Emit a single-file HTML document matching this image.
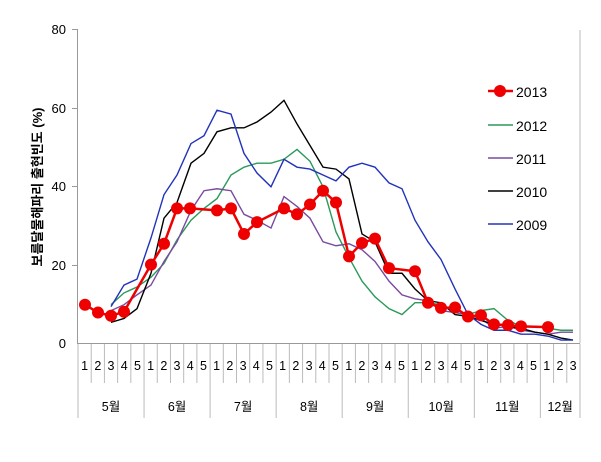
<!DOCTYPE html>
<html><head><meta charset="utf-8"><style>
body{margin:0;background:#fff;width:601px;height:462px;overflow:hidden;position:relative;font-family:"Liberation Sans","Noto Sans CJK KR",sans-serif}
.row{position:absolute;left:78px;width:510px;display:flex;font-size:12.5px;color:#000}
.row div{text-align:center;flex:none}
.w div{width:13.21px}
</style></head><body>
<svg id="s" width="601" height="462" style="position:absolute;left:0;top:0" font-family="Liberation Sans, Noto Sans CJK KR, sans-serif">
<line x1="77.5" y1="30" x2="77.5" y2="344" stroke="#999"/>
<line x1="77" y1="343.5" x2="580" y2="343.5" stroke="#999"/>
<line x1="580" y1="30" x2="580" y2="343" stroke="#bbb"/>
<g stroke="#999"><line x1="72" y1="29.5" x2="78" y2="29.5"/><line x1="72" y1="108.5" x2="78" y2="108.5"/><line x1="72" y1="186.5" x2="78" y2="186.5"/><line x1="72" y1="265.5" x2="78" y2="265.5"/></g>
<g font-size="13" text-anchor="end"><text x="66" y="34">80</text><text x="66" y="113">60</text><text x="66" y="191">40</text><text x="66" y="270">20</text><text x="66" y="348">0</text></g>
<text transform="translate(42,187) rotate(-90)" text-anchor="middle" font-size="13" font-weight="bold">보름달물해파리 출현빈도 (%)</text>
<g id="grid" stroke="#bbb"></g>
<g id="lines" fill="none" stroke-width="1.4"></g>
<g font-size="14">
<line x1="488" y1="91" x2="513" y2="91" stroke="#e00" stroke-width="2.5"/><circle cx="500" cy="91" r="6" fill="#e00"/><text x="516" y="97">2013</text>
<line x1="488" y1="125" x2="513" y2="125" stroke="#2a9a5a" stroke-width="1.4"/><text x="516" y="131">2012</text>
<line x1="488" y1="158" x2="513" y2="158" stroke="#7a4aa0" stroke-width="1.4"/><text x="516" y="164">2011</text>
<line x1="488" y1="191" x2="513" y2="191" stroke="#000" stroke-width="1.4"/><text x="516" y="197">2010</text>
<line x1="488" y1="224" x2="513" y2="224" stroke="#2233bb" stroke-width="1.4"/><text x="516" y="230">2009</text>
</g>
</svg>
<div class="row w" style="top:359px">
<div>1</div><div>2</div><div>3</div><div>4</div><div>5</div>
<div>1</div><div>2</div><div>3</div><div>4</div><div>5</div>
<div>1</div><div>2</div><div>3</div><div>4</div><div>5</div>
<div>1</div><div>2</div><div>3</div><div>4</div><div>5</div>
<div>1</div><div>2</div><div>3</div><div>4</div><div>5</div>
<div>1</div><div>2</div><div>3</div><div>4</div><div>5</div>
<div>1</div><div>2</div><div>3</div><div>4</div><div>5</div>
<div>1</div><div>2</div><div>3</div>
</div>
<div class="row" style="top:396px">
<div style="width:66.05px">5월</div><div style="width:66.05px">6월</div><div style="width:66.05px">7월</div><div style="width:66.05px">8월</div><div style="width:66.05px">9월</div><div style="width:66.05px">10월</div><div style="width:66.05px">11월</div><div style="width:39.63px">12월</div>
</div>
<script>
const W=13.21,X0=78;
const y=v=>344-v*3.93;
let g='';
for(let i=0;i<=38;i++){const x=X0+i*W;const big=(i%5==0)||i==38;g+=`<line x1="${x}" y1="344" x2="${x}" y2="${big?418:383}"/>`;}
document.getElementById('grid').innerHTML=g;
const S={
b2010:[[111,5.5],[124,6.5],[137,9],[151,18],[164,32],[177,36],[191,46],[204,48.5],[217,54],[231,55],[244,55],[257,56.5],[271,59],[284,62],[297,56],[310,50.5],[323,45],[336,44.5],[349,42],[362,28],[375,26],[389,18],[402,18],[415,14],[428,11],[441,10.5],[455,7.5],[468,7],[481,6],[494,5],[508,4.5],[521,4],[535,3],[548,2.5],[561,1.5],[573,1]],
b2009:[[111,9.5],[124,15],[137,16.5],[151,27],[164,38],[177,43],[191,51],[204,53],[217,59.5],[231,58.5],[244,48.5],[257,43.5],[271,40],[284,47],[297,45],[310,44.5],[323,43],[336,41.5],[349,45],[362,46],[375,45],[389,41],[402,39.5],[415,31.5],[428,26],[441,21.5],[455,14],[468,7.5],[481,5],[494,3.5],[508,3.5],[521,2.5],[535,2.5],[548,2],[561,1],[573,1]],
b2012:[[111,10],[124,13],[137,14.5],[151,17],[164,20.5],[177,26.5],[191,31.5],[204,34.5],[217,37],[231,43],[244,45],[257,46],[271,46],[284,47],[297,49.5],[310,46.5],[323,40],[336,28.5],[349,22],[362,16],[375,12],[389,9],[402,7.5],[415,10.5],[428,10.5],[441,10],[455,8],[468,7.5],[481,8.5],[494,9],[508,6],[521,4.5],[535,4.5],[548,4],[561,3.5],[573,3.5]],
b2011:[[111,8.5],[124,10],[137,12.5],[151,15],[164,21],[177,26],[191,34],[204,39],[217,39.5],[231,39],[244,33],[257,31.5],[271,29.5],[284,37.5],[297,35],[310,32],[323,26],[336,25],[349,25.5],[362,24],[375,21],[389,16],[402,12.5],[415,11.5],[428,11],[441,8.5],[455,8],[468,7.5],[481,6.5],[494,4],[508,4.5],[521,3.5],[535,3],[548,2.5],[561,3],[573,3]],
r:[[85,10],[98,8],[111,7.2],[124,8.2],[151,20.2],[164,25.5],[177,34.5],[190,34.5],[217,34],[231,34.5],[244,28],[257,31],[284,34.5],[297,33],[310,35.5],[323,39],[336,36],[349,22.3],[362,25.7],[375,26.8],[389,19.3],[415,18.5],[428,10.5],[441,9.2],[455,9.3],[468,7],[481,7.3],[494,5],[508,4.8],[521,4.5],[548,4.3]]};
const col={b2012:'#2a9a5a',b2011:'#7a4aa0',b2010:'#000',b2009:'#2233bb'};
let h='';
for(const k of ['b2012','b2011','b2010','b2009']){h+=`<polyline stroke="${col[k]}" points="${S[k].map(p=>p[0]+','+y(p[1])).join(' ')}"/>`;}
h+=`<polyline stroke="#e00" stroke-width="2.5" points="${S.r.map(p=>p[0]+','+y(p[1])).join(' ')}"/>`;
for(const p of S.r)h+=`<circle cx="${p[0]}" cy="${y(p[1])}" r="6" fill="#e00" stroke="none"/>`;
document.getElementById('lines').innerHTML=h;
</script>
</body></html>
